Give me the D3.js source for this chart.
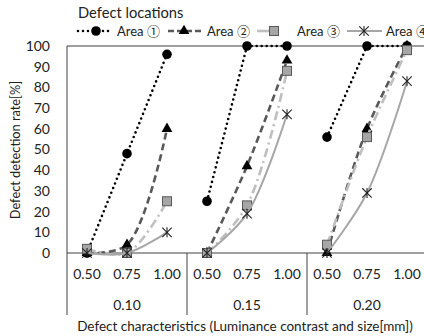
<!DOCTYPE html>
<html>
<head>
<meta charset="utf-8">
<script src="https://cdn.jsdelivr.net/npm/d3@7"></script>
<style>
    html, body { margin: 0; padding: 0; background: #fff; }
    svg { display: block; font-family: Lato, 'Noto Sans', sans-serif; }
</style>
</head>
<body>
<svg id="chart" width="424" height="336"></svg>
<script>
// luminance contrast groups and defect sizes
const groups = ['0.10', '0.15', '0.20'];
const sizes = ['0.50', '0.75', '1.00'];
const yTicks = [0, 10, 20, 30, 40, 50, 60, 70, 80, 90, 100];
const seriesNames = ['Area \u2460', 'Area \u2461', 'Area \u2462', 'Area \u2463'];

// detection rate [%], one row per group
const area1 = [[0, 48, 96], [25, 100, 100], [56, 100, 100]];
const area2 = [[0, 4, 60], [0, 42, 93], [0, 60, 100]];
const area3 = [[2, 0, 25], [0, 23, 88], [4, 56, 98]];
const area4 = [[0, 0, 10], [0, 19, 67], [0, 29, 83]];

const margin = { top: 46, left: 67, bottom: 83 };
const width = 424, height = 336;
const svg = d3.select('#chart');

const xGroup = d3.scaleBand().domain(groups).range([margin.left, margin.left + 360]);
const xSize = d3.scalePoint().domain(sizes).range([0, xGroup.bandwidth()]).padding(0.5);
const y = d3.scaleLinear().domain([0, 100]).range([height - margin.bottom, margin.top]);

const axisColor = '#404040';
const textColor = '#222';

// frame
svg.append('line')
    .attr('x1', margin.left).attr('x2', width)
    .attr('y1', y(100)).attr('y2', y(100))
    .attr('stroke', axisColor).attr('stroke-width', 1);
svg.append('line')
    .attr('x1', margin.left).attr('x2', width)
    .attr('y1', y(0)).attr('y2', y(0))
    .attr('stroke', axisColor).attr('stroke-width', 1);
svg.append('line')
    .attr('x1', margin.left).attr('x2', margin.left)
    .attr('y1', y(100)).attr('y2', 315)
    .attr('stroke', axisColor).attr('stroke-width', 1);
groups.slice(1).forEach(g => {
    svg.append('line')
        .attr('x1', xGroup(g)).attr('x2', xGroup(g))
        .attr('y1', y(0)).attr('y2', 315)
        .attr('stroke', axisColor).attr('stroke-width', 1);
});

// y axis
const yAxis = svg.append('g')
    .attr('transform', `translate(${margin.left}, 0)`)
    .call(d3.axisLeft(y).tickValues(yTicks).tickSize(0).tickPadding(17));
yAxis.select('.domain').remove();
yAxis.selectAll('text').attr('font-size', 14).attr('fill', textColor).attr('font-family', 'Lato');

// x labels
groups.forEach(g => {
    sizes.forEach(s => {
        svg.append('text')
            .attr('x', xGroup(g) + xSize(s)).attr('y', 279)
            .attr('text-anchor', 'middle').attr('font-size', 14).attr('fill', textColor)
            .text(s);
    });
    svg.append('text')
        .attr('x', xGroup(g) + xGroup.bandwidth() / 2).attr('y', 310)
        .attr('text-anchor', 'middle').attr('font-size', 14).attr('fill', textColor)
        .text(g);
});

svg.append('text')
    .attr('x', 245).attr('y', 331)
    .attr('text-anchor', 'middle').attr('font-size', 13.5).attr('fill', textColor)
    .text('Defect characteristics (Luminance contrast and size[mm])');

svg.append('text')
    .attr('transform', `translate(20, 150) rotate(-90)`)
    .attr('text-anchor', 'middle').attr('font-size', 12.8).attr('fill', textColor)
    .text('Defect detection rate[%]');

// series styles
const styles = [
    { data: area1, stroke: '#000', dash: '0,5', width: 2.6, cap: 'round', marker: 'circle', curve: d3.curveLinear },
    { data: area2, stroke: '#595959', dash: '7,4', width: 2.6, cap: 'butt', marker: 'triangle', curve: d3.curveCatmullRom },
    { data: area3, stroke: '#bfbfbf', dash: '9,4,2,4', width: 2.6, cap: 'butt', marker: 'square', curve: d3.curveCatmullRom },
    { data: area4, stroke: '#a6a6a6', dash: null, width: 2, cap: 'butt', marker: 'star', curve: d3.curveCatmullRom }
];

function drawMarker(g, type, cx, cy) {
    if (type === 'circle') {
        g.append('circle').attr('cx', cx).attr('cy', cy).attr('r', 4.8).attr('fill', '#000');
    } else if (type === 'triangle') {
        g.append('path')
            .attr('d', d3.symbol(d3.symbolTriangle, 50)())
            .attr('transform', `translate(${cx},${cy})`)
            .attr('fill', '#000');
    } else if (type === 'square') {
        g.append('rect')
            .attr('x', cx - 4.5).attr('y', cy - 4.5).attr('width', 9).attr('height', 9)
            .attr('fill', '#a6a6a6').attr('stroke', '#595959').attr('stroke-width', 1);
    } else {
        g.append('path')
            .attr('d', d3.symbol(d3.symbolTimes, 60)())
            .attr('transform', `translate(${cx},${cy})`)
            .attr('fill', 'none').attr('stroke', '#222').attr('stroke-width', 1.1);
        g.append('line')
            .attr('x1', cx).attr('x2', cx).attr('y1', cy - 5).attr('y2', cy + 5)
            .attr('stroke', '#222').attr('stroke-width', 1.1);
    }
}

styles.forEach(st => {
    const g = svg.append('g');
    groups.forEach((grp, gi) => {
        const pts = sizes.map((s, si) => [xGroup(grp) + xSize(s), y(st.data[gi][si])]);
        const line = d3.line().curve(st.curve);
        g.append('path')
            .attr('d', line(pts))
            .attr('fill', 'none')
            .attr('stroke', st.stroke)
            .attr('stroke-width', st.width)
            .attr('stroke-linecap', st.cap)
            .attr('stroke-dasharray', st.dash);
        pts.forEach(p => drawMarker(g, st.marker, p[0], p[1]));
    });
});

// legend
svg.append('text')
    .attr('x', 78).attr('y', 18)
    .attr('font-size', 14.7).attr('fill', textColor)
    .text('Defect locations');

const legendItems = [
    { x1: 78, x2: 113, mx: 96, tx: 117 },
    { x1: 168, x2: 201, mx: 184, tx: 207 },
    { x1: 257, x2: 274, mx: 274, tx: 297 },
    { x1: 347, x2: 382, mx: 364, tx: 386 }
];
legendItems.forEach((it, i) => {
    const st = styles[i];
    const lg = svg.append('g');
    lg.append('line')
        .attr('x1', it.x1).attr('x2', it.x2).attr('y1', 31).attr('y2', 31)
        .attr('stroke', st.stroke).attr('stroke-width', st.width)
        .attr('stroke-linecap', st.cap)
        .attr('stroke-dasharray', i === 0 ? st.dash : i === 1 ? '6,3' : null);
    drawMarker(lg, st.marker, it.mx, 31);
    const t = lg.append('text')
        .attr('x', it.tx).attr('y', 36)
        .attr('font-size', 13).attr('fill', textColor);
    t.append('tspan').text('Area ');
    t.append('tspan').attr('font-size', 13).attr('font-family', "'Noto Sans CJK JP'")
        .text(seriesNames[i].slice(5));
});
</script>
</body>
</html>
